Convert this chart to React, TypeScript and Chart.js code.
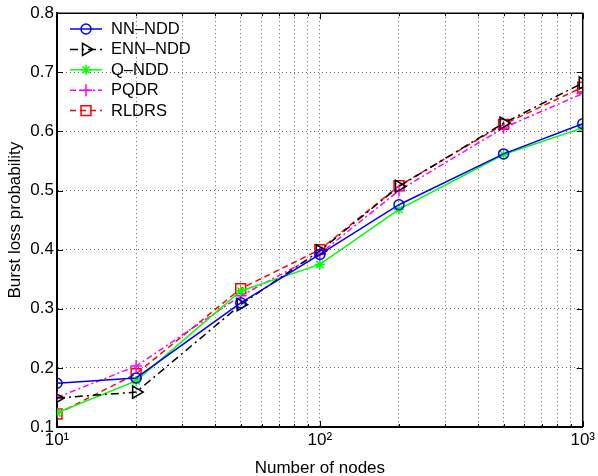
import React, { useEffect, useRef } from 'react';
import { Chart, registerables } from 'chart.js';
import { drawPoint } from 'chart.js/helpers';

Chart.register(...registerables);

// ---- data ----
const nodes = [10, 20, 50, 100, 200, 500, 1000];
const nnNdd = [0.174, 0.183, 0.31, 0.392, 0.476, 0.562, 0.613];
const ennNdd = [0.149, 0.159, 0.307, 0.398, 0.507, 0.614, 0.682];
const qNdd = [0.124, 0.178, 0.33, 0.375, 0.468, 0.561, 0.606];
const pqdr = [0.15, 0.203, 0.322, 0.393, 0.5, 0.606, 0.664];
const rldrs = [0.122, 0.19, 0.334, 0.4, 0.508, 0.612, 0.675];

const seriesNames = ['NN–NDD', 'ENN–NDD', 'Q–NDD', 'PQDR', 'RLDRS'];
const seriesValues = [nnNdd, ennNdd, qNdd, pqdr, rldrs];

const xTickValues = [10, 20, 30, 40, 50, 60, 70, 80, 90, 100, 200, 300, 400, 500, 600, 700, 800, 900, 1000];
const xMajorValues = [10, 100, 1000];
const xMajorLabels = ['10¹', '10²', '10³'];
const yTickValues = [0.1, 0.2, 0.3, 0.4, 0.5, 0.6, 0.7, 0.8];

const xTitle = 'Number of nodes';
const yTitle = 'Burst loss probability';

// ---- styles ----
const FONT = "'Liberation Sans', Arial, Helvetica, sans-serif";
const styles = [
  { color: '#0000ff', dash: [] as number[], pointStyle: 'circle', radius: 5, rotation: 0 },
  { color: '#000000', dash: [8, 4, 2, 4], pointStyle: 'triangle', radius: 7, rotation: 90 },
  { color: '#00ff00', dash: [] as number[], pointStyle: 'star', radius: 5, rotation: 0 },
  { color: '#ff00ff', dash: [6, 3, 2, 3], pointStyle: 'cross', radius: 6, rotation: 0 },
  { color: '#ff0000', dash: [6, 4], pointStyle: 'rect', radius: 7, rotation: 0 },
];

const boxPlugin = {
  id: 'matlabBox',
  afterDraw(chart: any) {
    const { ctx, chartArea: a } = chart;
    const xs = chart.scales.x;
    const ys = chart.scales.y;
    ctx.save();
    ctx.strokeStyle = '#000';
    ctx.lineWidth = 1;
    ctx.setLineDash([]);
    ctx.beginPath();
    xTickValues.forEach((v) => {
      const px = Math.round(xs.getPixelForValue(v)) + 0.5;
      const len = xMajorValues.includes(v) ? 6 : 3;
      ctx.moveTo(px, a.bottom);
      ctx.lineTo(px, a.bottom - len);
      ctx.moveTo(px, a.top);
      ctx.lineTo(px, a.top + len);
    });
    yTickValues.forEach((v) => {
      const py = Math.round(ys.getPixelForValue(v)) + 0.5;
      ctx.moveTo(a.left, py);
      ctx.lineTo(a.left + 6, py);
      ctx.moveTo(a.right, py);
      ctx.lineTo(a.right - 6, py);
    });
    ctx.stroke();
    // top and right border
    ctx.lineWidth = 1.5;
    ctx.beginPath();
    ctx.moveTo(a.left, a.top);
    ctx.lineTo(a.right, a.top);
    ctx.lineTo(a.right, a.bottom);
    ctx.stroke();

    // legend
    const lx0 = 70;
    const lx1 = 102;
    const mx = 86;
    const tx = 111;
    ctx.font = `16.5px ${FONT}`;
    ctx.textBaseline = 'middle';
    ctx.textAlign = 'left';
    seriesNames.forEach((name, i) => {
      const st = styles[i];
      const y = 29 + i * 20.4;
      ctx.save();
      ctx.strokeStyle = st.color;
      ctx.lineWidth = 1.5;
      ctx.setLineDash(st.dash);
      ctx.beginPath();
      ctx.moveTo(lx0, y);
      ctx.lineTo(lx1, y);
      ctx.stroke();
      ctx.setLineDash([]);
      ctx.fillStyle = 'rgba(0,0,0,0)';
      drawPoint(ctx, { pointStyle: st.pointStyle, radius: st.radius, rotation: st.rotation, borderWidth: 1.5 } as any, mx, y);
      ctx.restore();
      ctx.fillStyle = '#000';
      ctx.fillText(name, tx, y + 0.5);
    });
    ctx.restore();
  },
};

export default function App() {
  const ref = useRef<HTMLCanvasElement>(null);
  useEffect(() => {
    if (!ref.current) return;
    const datasets = seriesNames.map((name, i) => {
      const st = styles[i];
      return {
        label: name,
        data: nodes.map((n, j) => ({ x: n, y: seriesValues[i][j] })),
        borderColor: st.color,
        backgroundColor: 'rgba(0,0,0,0)',
        borderWidth: 1.5,
        borderDash: st.dash,
        pointStyle: st.pointStyle,
        pointRadius: st.radius,
        pointRotation: st.rotation,
        pointBorderColor: st.color,
        pointBackgroundColor: 'rgba(0,0,0,0)',
        pointBorderWidth: 1.5,
        tension: 0,
        fill: false,
      };
    });
    const chart = new Chart(ref.current, {
      type: 'line',
      data: { datasets } as any,
      options: {
        animation: false,
        responsive: false,
        devicePixelRatio: 1,
        layout: { padding: { left: 0, top: 11, right: 13, bottom: 0 } },
        plugins: { legend: { display: false }, tooltip: { enabled: false } },
        scales: {
          x: {
            type: 'logarithmic',
            min: 10,
            max: 1000,
            afterBuildTicks: (scale: any) => {
              scale.ticks = xTickValues.map((v) => ({ value: v, major: false }));
            },
            afterFit: (scale: any) => {
              scale.height = 49;
            },
            ticks: {
              autoSkip: false,
              maxRotation: 0,
              minRotation: 0,
              padding: 3,
              color: '#000',
              font: { family: FONT, size: 17 },
              callback: (value: any) => {
                const i = xMajorValues.indexOf(Number(value));
                return i >= 0 ? xMajorLabels[i] : '';
              },
            },
            grid: { color: 'rgba(0,0,0,0.6)', lineWidth: 1, drawTicks: false },
            border: { display: true, color: '#000', width: 2, dash: [1, 3] },
            title: {
              display: true,
              text: xTitle,
              color: '#000',
              font: { family: FONT, size: 17, lineHeight: 1 },
              padding: { top: 0, bottom: -1 },
            },
          },
          y: {
            type: 'linear',
            min: 0.1,
            max: 0.8,
            afterBuildTicks: (scale: any) => {
              scale.ticks = yTickValues.map((v) => ({ value: v }));
            },
            afterFit: (scale: any) => {
              scale.width = 57;
            },
            ticks: {
              padding: 3,
              color: '#000',
              font: { family: FONT, size: 17 },
              callback: (value: any) => Number(value).toFixed(1),
            },
            grid: { color: 'rgba(0,0,0,0.6)', lineWidth: 1, drawTicks: false },
            border: { display: true, color: '#000', width: 2, dash: [1, 3] },
            title: {
              display: true,
              text: yTitle,
              color: '#000',
              font: { family: FONT, size: 17, lineHeight: 1 },
              padding: { top: 7, bottom: 0 },
            },
          },
        },
      } as any,
      plugins: [boxPlugin],
    });
    return () => chart.destroy();
  }, []);
  return (
    <div style={{ position: 'fixed', left: 0, top: 0, width: 598, height: 476, background: '#fff' }}>
      <canvas ref={ref} width={598} height={476} style={{ display: 'block', width: 598, height: 476 }} />
    </div>
  );
}
